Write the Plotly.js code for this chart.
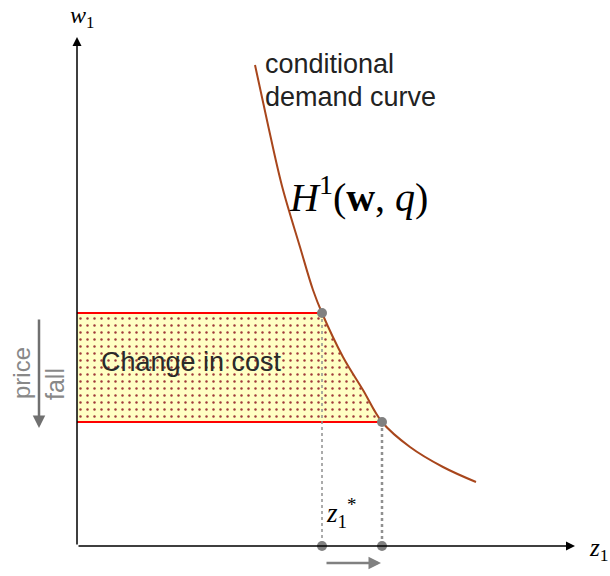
<!DOCTYPE html>
<html>
<head>
<meta charset="utf-8">
<script src="https://cdn.plot.ly/plotly-3.0.1.min.js"></script>
<style>html,body{margin:0;padding:0;background:#fff}</style>
</head>
<body>
<div id="chart" style="width:610px;height:576px"></div>
<script>
// Conditional demand curve H1(w, q): quantity z1 vs price w1
const curveZ = [178, 191, 205, 223, 236, 245, 266, 286, 305, 333, 366, 399];
const curveW = [481, 421, 360, 299, 256, 233, 189, 156, 124, 99, 79, 64];
// equilibrium before and after the price fall
const eqZ = [245, 305];
const eqW = [233, 124];
// axis extents
const axisMaxZ = 498;
const axisMaxW = 509;

const curveColor = '#a8461c';
const grey = '#808080';

// shaded "change in cost" region: from the w-axis to the curve between the two prices
const fillX = [0], fillY = [eqW[0]];
for (let i = 0; i < curveZ.length; i++) {
  if (curveW[i] <= eqW[0] && curveW[i] >= eqW[1]) { fillX.push(curveZ[i]); fillY.push(curveW[i]); }
}
fillX.push(0); fillY.push(eqW[1]);

const traces = [
  { x: fillX, y: fillY, mode: 'lines', fill: 'toself', line: { width: 0 },
    fillcolor: '#ffffc0',
    fillpattern: { shape: '.', bgcolor: '#ffffc4', fgcolor: '#a03a3a', fgopacity: 1, size: 7, solidity: 0.1 },
    hoverinfo: 'skip' },
  { x: [0, eqZ[0]], y: [eqW[0], eqW[0]], mode: 'lines', line: { color: '#ff0000', width: 2 } },
  { x: [0, eqZ[1]], y: [eqW[1], eqW[1]], mode: 'lines', line: { color: '#ff0000', width: 2 } },
  { x: [eqZ[0], eqZ[0]], y: [eqW[0], 0], mode: 'lines', line: { color: '#909090', width: 1.5, dash: 'dot' } },
  { x: [eqZ[1], eqZ[1]], y: [eqW[1], 0], mode: 'lines', line: { color: '#909090', width: 2.5, dash: 'dot' } },
  { x: curveZ, y: curveW, mode: 'lines', line: { color: curveColor, width: 2, shape: 'spline' } },
  { x: eqZ, y: eqW, mode: 'markers', marker: { color: grey, size: 10 } },
  { x: eqZ, y: [0, 0], mode: 'markers', marker: { color: grey, size: 10 } }
];

const serif = 'Liberation Serif, Times New Roman, serif';
const sans = 'Liberation Sans, Arial, sans-serif';

const annotations = [
  // axes
  { x: axisMaxZ, y: 0, ax: 0, ay: 0, axref: 'x', ayref: 'y', xref: 'x', yref: 'y', text: '', showarrow: true,
    arrowhead: 2, arrowsize: 1.2, arrowwidth: 1.5, arrowcolor: '#000' },
  { x: 0, y: axisMaxW, ax: 0, ay: 0, axref: 'x', ayref: 'y', xref: 'x', yref: 'y', text: '', showarrow: true,
    arrowhead: 2, arrowsize: 1.2, arrowwidth: 1.5, arrowcolor: '#000' },
  // price fall arrow
  { x: -38, y: 118, ax: -38, ay: 228, axref: 'x', ayref: 'y', xref: 'x', yref: 'y', text: '', showarrow: true,
    arrowhead: 2, arrowsize: 1, arrowwidth: 2.5, arrowcolor: '#707070' },
  // quantity increase arrow
  { x: 304, y: -17, ax: 248, ay: -17, axref: 'x', ayref: 'y', xref: 'x', yref: 'y', text: '', showarrow: true,
    arrowhead: 2, arrowsize: 1, arrowwidth: 2.5, arrowcolor: '#808080' },
  // labels
  { x: 5, y: 529, xref: 'x', yref: 'y', text: '<i>w</i><sub>1</sub>', showarrow: false,
    font: { family: serif, size: 24, color: '#000' } },
  { x: 521, y: -3, xref: 'x', yref: 'y', text: '<i>z</i><sub>1</sub>', showarrow: false,
    font: { family: serif, size: 25, color: '#000' } },
  { x: 264, y: 33, xref: 'x', yref: 'y', text: '<i>z</i><sub>1</sub><sup>*</sup>', showarrow: false,
    font: { family: serif, size: 27, color: '#000' } },
  { x: 186, y: 482, xref: 'x', yref: 'y', text: 'conditional', showarrow: false, xanchor: 'left',
    font: { family: sans, size: 27, color: '#222' } },
  { x: 186, y: 449, xref: 'x', yref: 'y', text: 'demand curve', showarrow: false, xanchor: 'left',
    font: { family: sans, size: 27, color: '#222' } },
  { x: 210, y: 352, xref: 'x', yref: 'y', text: '<i>H</i><sup>1</sup>(<b>w</b>, <i>q</i>)', showarrow: false, xanchor: 'left',
    font: { family: serif, size: 40, color: '#000' } },
  { x: 22, y: 184, xref: 'x', yref: 'y', text: 'Change in cost', showarrow: false, xanchor: 'left',
    font: { family: sans, size: 27, color: '#2a2a2a' } },
  { x: -56, y: 173, xref: 'x', yref: 'y', text: 'price', showarrow: false, textangle: -90,
    font: { family: sans, size: 24, color: '#888' } },
  { x: -22, y: 162, xref: 'x', yref: 'y', text: 'fall', showarrow: false, textangle: -90,
    font: { family: sans, size: 25, color: '#888' } }
];

Plotly.newPlot('chart', traces, {
  width: 610, height: 576,
  margin: { l: 0, r: 0, t: 0, b: 0 },
  paper_bgcolor: '#fff', plot_bgcolor: '#fff',
  showlegend: false,
  xaxis: { range: [-77, 533], visible: false, fixedrange: true },
  yaxis: { range: [-30, 546], visible: false, fixedrange: true },
  annotations: annotations
}, { staticPlot: true });
</script>
</body>
</html>
